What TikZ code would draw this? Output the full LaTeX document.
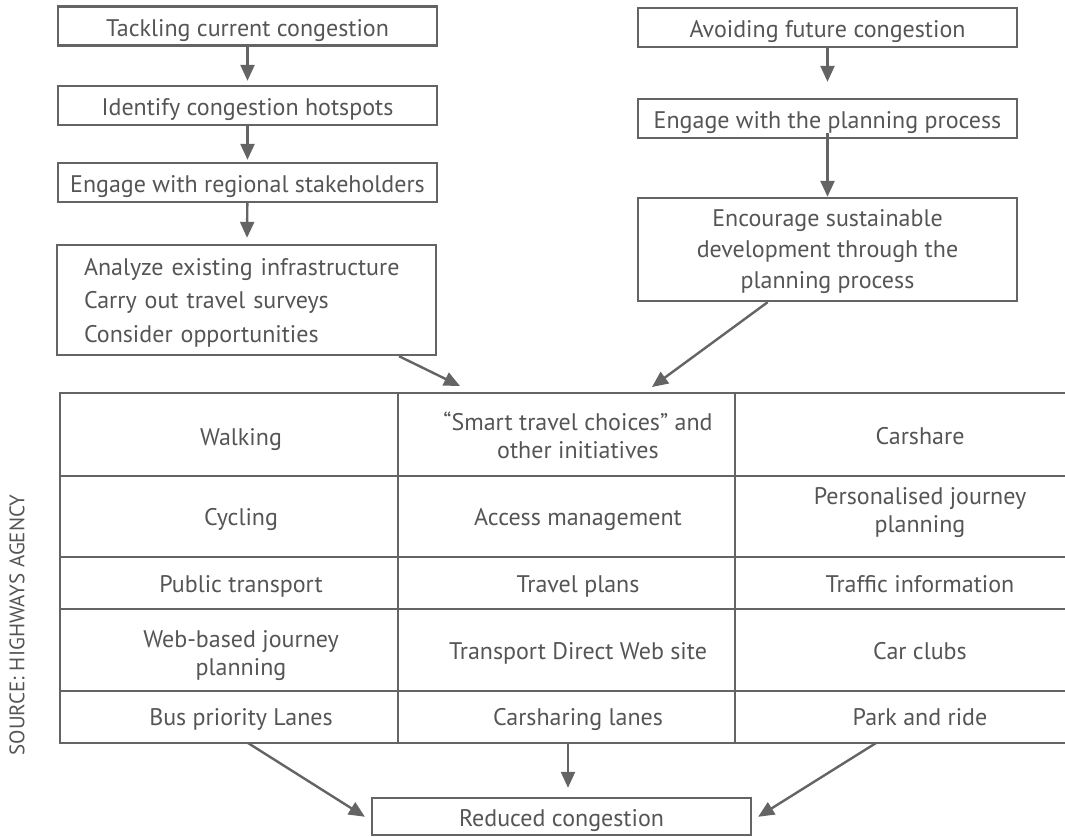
\documentclass[tikz,border=0pt]{standalone}
\usepackage{fontspec}
\setmainfont{PT Sans}
\usetikzlibrary{arrows.meta, positioning, calc}
\definecolor{boxgray}{RGB}{100,100,100}
\definecolor{textgray}{RGB}{85,85,85}
\tikzset{
  flowbox/.style={draw=boxgray, line width=1.2pt, minimum width=189.5pt, minimum height=19.5pt,
    inner sep=1pt, text=textgray, font=\fontsize{12}{15.5}\selectfont, align=center,
    text height=10pt, text depth=0pt},
  flowarrow/.style={draw=boxgray, line width=1.2pt, -{Triangle[length=8pt, width=7pt]}},
  grid/.style={draw=boxgray, line width=1.2pt},
  celltext/.style={text=textgray, font=\fontsize{12}{14}\selectfont, align=center, anchor=base}
}

\begin{document}
\begin{tikzpicture}[x=0.5pt, y=-0.5pt]
  \useasboundingbox (0,0) rectangle (1065,836);

  % Current congestion
  \node[flowbox] (tackle) at (247.5,26) {Tackling current congestion};
  \node[flowbox] (hotspots) at (247.5,105.5) {Identify congestion hotspots};
  \node[flowbox] (regional) at (247.5,182.5) {Engage with regional stakeholders};
  \node[flowbox, minimum height=55pt, inner xsep=13.5pt, text width=162.5pt, align=left,
    text height=0pt, text depth=25pt, font=\fontsize{12}{16.75}\selectfont] (analyze) at (246.5,300) {
    Analyze existing infrastructure\\
    Carry out travel surveys\\
    Consider opportunities
  };

  % Future congestion
  \node[flowbox] (avoid) at (827.5,27.5) {Avoiding future congestion};
  \node[flowbox] (planning) at (827.5,118.5) {Engage with the planning process};
  \node[flowbox, minimum height=51.5pt, text height=38.5pt, text depth=0pt] (encourage) at (827.5,249.5) {
    Encourage sustainable\\
    development through the\\
    planning process
  };

  \draw[flowarrow, shorten >=2pt] (tackle) -- (hotspots);
  \draw[flowarrow, shorten >=1pt] (hotspots) -- (regional);
  \draw[flowarrow, shorten >=3pt] (regional) -- (analyze);
  \draw[flowarrow, shorten >=8pt] (avoid) -- (planning);
  \draw[flowarrow] ([yshift=3pt]planning.south) -- (encourage);

  % Measures table
  \draw[grid] (60,393) rectangle (1090,743);
  \foreach \y in {476,557,609,691}
    \draw[grid] (60,\y) -- (1090,\y);
  \foreach \x in {398,735}
    \draw[grid] (\x,393) -- (\x,743);

  % cells placed at the baseline of their last line
  \node[celltext] (walking) at (241,445) {Walking};
  \node[celltext] (smart) at (578,458) {``Smart travel choices'' and\\other initiatives};
  \node[celltext] (carshare) at (920,444) {Carshare};
  \node[celltext] (cycling) at (241,525) {Cycling};
  \node[celltext] (access) at (578,525) {Access management};
  \node[celltext] (personal) at (920,532) {Personalised journey\\planning};
  \node[celltext] (public) at (241,592) {Public transport};
  \node[celltext] (travelplans) at (578,592) {Travel plans};
  \node[celltext] (traffic) at (920,592) {Traffic information};
  \node[celltext] (webbased) at (241,675) {Web-based journey\\planning};
  \node[celltext] (direct) at (578,659) {Transport Direct Web site};
  \node[celltext] (carclubs) at (920,659) {Car clubs};
  \node[celltext] (buslanes) at (241,725) {Bus priority Lanes};
  \node[celltext] (carlanes) at (578,725) {Carsharing lanes};
  \node[celltext] (parkride) at (920,725) {Park and ride};

  \coordinate (tabinL) at (460,386);
  \coordinate (tabinR) at (652,387);
  \draw[flowarrow] ($(analyze.south west)!0.9!(analyze.south east)$) -- (tabinL);
  \draw[flowarrow] ($(encourage.south west)!0.343!(encourage.south east)$) -- (tabinR);

  % Result
  \node[flowbox, minimum height=18.5pt] (reduced) at (561.5,816.5) {Reduced congestion};

  \coordinate (busout) at (248,743);
  \coordinate (carout) at (568,743);
  \coordinate (parkout) at (876,743);
  \draw[flowarrow, shorten >=3.5pt] (busout) -- ([yshift=-2pt]reduced.west);
  \draw[flowarrow, shorten >=4.5pt] (carout) -- (carout |- reduced.north);
  \draw[flowarrow, shorten >=3.5pt] (parkout) -- ([yshift=-2pt]reduced.east);

  % Source
  \node[rotate=90, text=textgray, font=\fontsize{10.5}{12}\selectfont] (source) at (17,625) {SOURCE: HIGHWAYS AGENCY};
\end{tikzpicture}
\end{document}
